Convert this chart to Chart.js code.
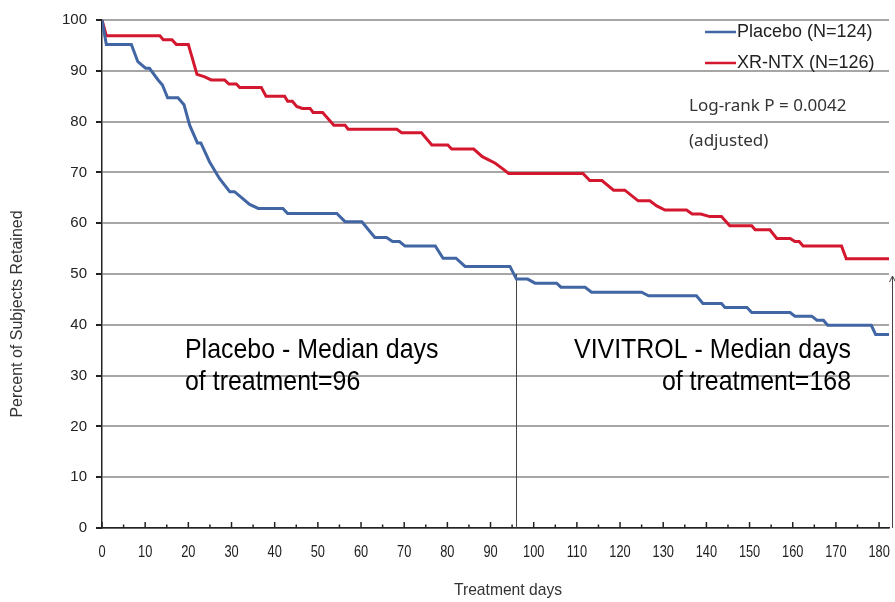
<!DOCTYPE html>
<html>
<head>
<meta charset="utf-8">
<script src="https://cdn.jsdelivr.net/npm/chart.js@4"></script>
<style>
  html, body { margin: 0; padding: 0; background: #fff; }
  #wrap { width: 895px; height: 602px; }
</style>
</head>
<body>
<div id="wrap"><canvas id="grafico" width="895" height="602"></canvas></div>
<script>
// Dados (dias, % retidos)
const placeboDays = [0, 1, 6.8, 8.3, 10.1, 11, 13, 14, 15.2, 17.6, 19, 20.3, 22.1, 22.9, 24.9, 27.2, 29.6, 30.7, 34.2, 36.2, 41.9, 43, 54.4, 56.3, 60.2, 63.2, 65.9, 67.3, 68.9, 70.2, 77.2, 79, 82, 84.1, 94.5, 96, 98.6, 100.3, 105.3, 106.3, 111.9, 113.4, 125, 126.6, 137.7, 139.2, 143.5, 144.3, 149.4, 150.5, 159.4, 160.5, 164.4, 165.6, 167.1, 168.1, 178.2, 179.2, 182.3];
const placeboPct = [100, 95.2, 95.2, 91.8, 90.5, 90.5, 88.2, 87.2, 84.7, 84.7, 83.3, 79.3, 75.8, 75.8, 72.1, 68.8, 66.2, 66.2, 63.7, 62.9, 62.9, 61.9, 61.9, 60.3, 60.3, 57.2, 57.2, 56.4, 56.4, 55.5, 55.5, 53.1, 53.1, 51.5, 51.5, 49, 49, 48.2, 48.2, 47.4, 47.4, 46.4, 46.4, 45.7, 45.7, 44.2, 44.2, 43.4, 43.4, 42.4, 42.4, 41.7, 41.7, 40.9, 40.9, 39.9, 39.9, 38.1, 38.1];

const xrntxDays = [0, 1, 13.4, 14.2, 16.2, 17.2, 20, 22, 23.8, 25.3, 28.4, 29.4, 31.1, 31.9, 36.9, 38, 42.3, 43, 44.1, 45.1, 46.4, 48.2, 48.9, 51.1, 53.7, 56.3, 57, 68.3, 69.4, 74, 76.4, 80.1, 81, 86.1, 88.1, 91.1, 93, 94.2, 111.4, 113, 115.8, 118.5, 121.1, 124.2, 126.9, 128.5, 130.4, 135.4, 136.7, 138.7, 140.8, 143.5, 145.4, 150.5, 151.3, 154.7, 156.3, 159.4, 160.5, 161.5, 162.4, 171.3, 172.4, 182.3];
const xrntxPct = [100, 96.9, 96.9, 96.1, 96.1, 95.2, 95.2, 89.3, 88.8, 88.2, 88.2, 87.4, 87.4, 86.7, 86.7, 85, 85, 84, 84, 83, 82.6, 82.6, 81.8, 81.8, 79.3, 79.3, 78.5, 78.5, 77.8, 77.8, 75.4, 75.4, 74.6, 74.6, 73.1, 71.8, 70.6, 69.8, 69.8, 68.4, 68.4, 66.5, 66.5, 64.4, 64.4, 63.4, 62.6, 62.6, 61.8, 61.8, 61.3, 61.3, 59.5, 59.5, 58.7, 58.7, 57, 57, 56.4, 56.4, 55.5, 55.5, 53, 53];

const xTickLabels = [0, 10, 20, 30, 40, 50, 60, 70, 80, 90, 100, 110, 120, 130, 140, 150, 160, 170, 180];
const legendLabels = ['Placebo (N=124)', 'XR-NTX (N=126)'];
const medianPlacebo = 96;   // dias
const arrowDay = 183;       // seta na borda direita
const medianLevel = 50;
const xMaxDay = 182.3;      // eixo desenhado um pouco além de 180

const corPlacebo = '#4166a3';
const corXr = '#d3172f';

const toPoints = (xs, ys) => xs.map((x, i) => ({ x: x, y: ys[i] }));

// texto "estreito" (imita Arial Narrow)
function textoEstreito(ctx, txt, x, y, escala) {
  ctx.save();
  ctx.translate(x, y);
  ctx.scale(escala, 1);
  ctx.fillText(txt, 0, 0);
  ctx.restore();
}

// Plugin: marcas do eixo x, linhas de mediana, legenda e textos
const anotacoes = {
  id: 'anotacoes',
  beforeDatasetsDraw(chart) {
    const { ctx, scales: { x, y } } = chart;
    const base = y.getPixelForValue(0);
    ctx.save();
    // linha vertical mediana placebo
    ctx.strokeStyle = '#444';
    ctx.lineWidth = 1;
    const xm = Math.round(x.getPixelForValue(medianPlacebo)) + 0.5;
    ctx.beginPath();
    ctx.moveTo(xm, base);
    ctx.lineTo(xm, y.getPixelForValue(medianLevel));
    ctx.stroke();
    // seta na direita
    const xa = Math.round(x.getPixelForValue(arrowDay)) + 0.5;
    const ya = y.getPixelForValue(medianLevel) + 2;
    ctx.beginPath();
    ctx.moveTo(xa, base);
    ctx.lineTo(xa, ya);
    ctx.stroke();
    ctx.beginPath();
    ctx.moveTo(xa - 3, ya + 6);
    ctx.lineTo(xa, ya);
    ctx.lineTo(xa + 3, ya + 6);
    ctx.stroke();
    ctx.restore();
  },
  afterDraw(chart) {
    const { ctx, scales: { x, y } } = chart;
    const base = y.getPixelForValue(0);
    ctx.save();
    // marcas do eixo x (para dentro)
    ctx.strokeStyle = '#222';
    ctx.lineWidth = 1.5;
    for (let d = 0; d <= 180; d += 5) {
      const px = x.getPixelForValue(d);
      const len = d % 10 === 0 ? 6 : 3.5;
      ctx.beginPath();
      ctx.moveTo(px, base);
      ctx.lineTo(px, base - len);
      ctx.stroke();
    }

    // rótulos do eixo x (fonte estreita)
    ctx.fillStyle = '#222';
    ctx.font = '16px "Liberation Sans", Arial, sans-serif';
    ctx.textAlign = 'center';
    ctx.textBaseline = 'middle';
    xTickLabels.forEach(v => {
      textoEstreito(ctx, String(v), x.getPixelForValue(v), 553, 0.8);
    });
    // título do eixo x
    ctx.fillStyle = '#333';
    ctx.font = '17px "Liberation Sans", Arial, sans-serif';
    textoEstreito(ctx, 'Treatment days', 508, 590, 0.92);

    // título do eixo y
    ctx.save();
    ctx.translate(18, 314);
    ctx.rotate(-Math.PI / 2);
    ctx.font = '16px "Liberation Sans", Arial, sans-serif';
    ctx.fillText('Percent of Subjects Retained', 0, 0);
    ctx.restore();

    // legenda
    const cores = [corPlacebo, corXr];
    ctx.textAlign = 'left';
    ctx.font = '18px "Liberation Sans", Arial, sans-serif';
    ctx.fillStyle = '#222';
    legendLabels.forEach((txt, i) => {
      const ly = 32 + i * 31;
      ctx.strokeStyle = cores[i];
      ctx.lineWidth = 2.5;
      ctx.beginPath();
      ctx.moveTo(705, ly);
      ctx.lineTo(736, ly);
      ctx.stroke();
      ctx.fillText(txt, 737, ly);
    });

    ctx.font = '17px "Noto Sans", "Open Sans", sans-serif';
    ctx.fillStyle = '#333';
    ctx.fillText('Log-rank P = 0.0042', 689, 106);
    ctx.fillText('(adjusted)', 689, 141);

    // textos das medianas
    ctx.fillStyle = '#000';
    ctx.font = '28px "Liberation Sans", Arial, sans-serif';
    ctx.textAlign = 'left';
    textoEstreito(ctx, 'Placebo - Median days', 185, 350, 0.89);
    textoEstreito(ctx, 'of treatment=96', 185, 382, 0.89);
    ctx.textAlign = 'right';
    textoEstreito(ctx, 'VIVITROL - Median days', 851, 350, 0.89);
    textoEstreito(ctx, 'of treatment=168', 851, 382, 0.89);
    ctx.restore();
  }
};

const ctx = document.getElementById('grafico').getContext('2d');
const grafico = new Chart(ctx, {
  type: 'line',
  data: {
    datasets: [
      {
        label: legendLabels[0],
        data: toPoints(placeboDays, placeboPct),
        borderColor: corPlacebo,
        borderWidth: 3,
        pointRadius: 0,
        tension: 0
      },
      {
        label: legendLabels[1],
        data: toPoints(xrntxDays, xrntxPct),
        borderColor: corXr,
        borderWidth: 3,
        pointRadius: 0,
        tension: 0
      }
    ]
  },
  options: {
    responsive: false,
    animation: false,
    layout: { padding: { top: 20, right: 6, left: 0, bottom: 0 } },
    scales: {
      x: {
        type: 'linear',
        min: 0,
        max: xMaxDay,
        afterFit: s => { s.height = 74; s.paddingLeft = 0; s.paddingRight = 0; },
        grid: { display: false, drawTicks: false },
        border: { display: true, color: '#222', width: 1.5 },
        ticks: { stepSize: 10, display: false }
      },
      y: {
        min: 0,
        max: 100,
        afterFit: s => { s.width = 102; s.paddingTop = 0; s.paddingBottom = 0; },
        grid: { color: '#a6a6a6', lineWidth: 2, tickColor: '#222', tickLength: 6 },
        border: { display: true, color: '#222', width: 1.5 },
        ticks: {
          stepSize: 10,
          padding: 9,
          color: '#222',
          font: { family: '"Liberation Sans", Arial', size: 15 }
        }
      }
    },
    plugins: {
      legend: { display: false },
      tooltip: { enabled: false }
    }
  },
  plugins: [anotacoes]
});
</script>
</body>
</html>
